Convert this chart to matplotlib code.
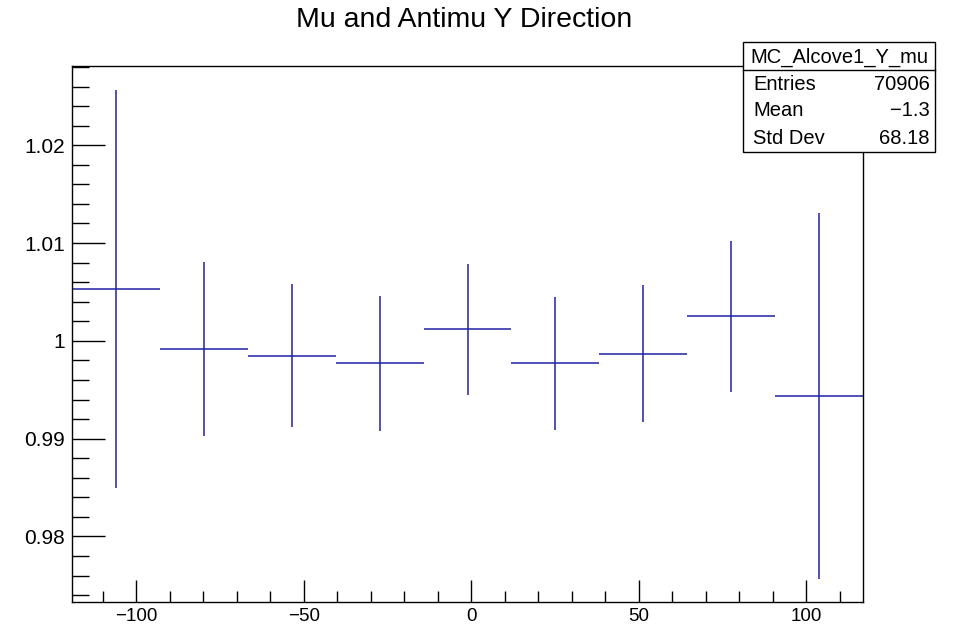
import numpy as np
import matplotlib
matplotlib.use("Agg")
import matplotlib.pyplot as plt
from matplotlib.patches import Rectangle
from matplotlib.lines import Line2D
from matplotlib.ticker import MultipleLocator, FormatStrFormatter

# histogram range / binning
x_lo, x_hi = -119.2, 117.0
n_bins = 9

# bin contents (ratio) and errors
ratio = [1.0053, 0.9992, 0.9985, 0.9977, 1.0012, 0.9977, 0.9987, 1.0025, 0.9944]
ratio_err = [0.0203, 0.0089, 0.0073, 0.0069, 0.0067, 0.0068, 0.0070, 0.0077, 0.0187]

title = "Mu and Antimu Y Direction"
stats_name = "MC_Alcove1_Y_mu"
stats_labels = ["Entries", "Mean", "Std Dev"]
stats_values = ["70906", "\u22121.3", "68.18"]

plt.rcParams['font.family'] = ['Liberation Sans', 'DejaVu Sans']

edges = np.linspace(x_lo, x_hi, n_bins + 1)
centers = 0.5 * (edges[:-1] + edges[1:])
half_w = 0.5 * np.diff(edges)

fig = plt.figure(figsize=(9.6, 6.28), dpi=100)
ax = fig.add_axes([0.075, 0.0414, 0.824, 0.8535])

line_col = '#2222a4'
ax.errorbar(centers, ratio, yerr=ratio_err, xerr=half_w, fmt='none',
            ecolor=line_col, elinewidth=1.1, capsize=0)

ax.set_xlim(x_lo, x_hi)
ax.set_ylim(0.9733, 1.0281)

ax.xaxis.set_major_locator(MultipleLocator(50))
ax.xaxis.set_minor_locator(MultipleLocator(10))
ax.yaxis.set_major_locator(MultipleLocator(0.01))
ax.yaxis.set_minor_locator(MultipleLocator(0.002))
ax.yaxis.set_major_formatter(FormatStrFormatter('%g'))

ax.tick_params(axis='x', which='major', direction='in', length=16, width=1.0,
               labelsize=13.5, pad=4.5, top=False)
ax.tick_params(axis='x', which='minor', direction='in', length=8, width=1.0, top=False)
ax.tick_params(axis='y', which='major', direction='in', length=24, width=1.0,
               labelsize=15, pad=5, right=False)
ax.tick_params(axis='y', which='minor', direction='in', length=12, width=1.0, right=False)
for s in ax.spines.values():
    s.set_linewidth(1.0)

fig.text(464 / 960, 1 - 20 / 628, title, ha='center', va='center', fontsize=20.5)

# stats box
bx0, bx1 = 743 / 960, 935 / 960
by0, by1 = 1 - 152 / 628, 1 - 42 / 628
fig.patches.append(Rectangle((bx0, by0), bx1 - bx0, by1 - by0, transform=fig.transFigure,
                             facecolor='white', edgecolor='black', linewidth=1.0, zorder=5))
hy = 1 - 70 / 628
fig.lines.append(Line2D([bx0, bx1], [hy, hy], transform=fig.transFigure,
                        color='black', linewidth=1.0, zorder=6))
fig.text((bx0 + bx1) / 2, 1 - 57 / 628, stats_name, ha='center', va='center',
         fontsize=14.5, zorder=7)
row_y = [85, 111, 138]
for lab, val, ry in zip(stats_labels, stats_values, row_y):
    fig.text(753 / 960, 1 - ry / 628, lab, ha='left', va='center', fontsize=14.5, zorder=7)
    fig.text(930 / 960, 1 - ry / 628, val, ha='right', va='center', fontsize=14.5, zorder=7)

fig.savefig("out.png", dpi=100)
